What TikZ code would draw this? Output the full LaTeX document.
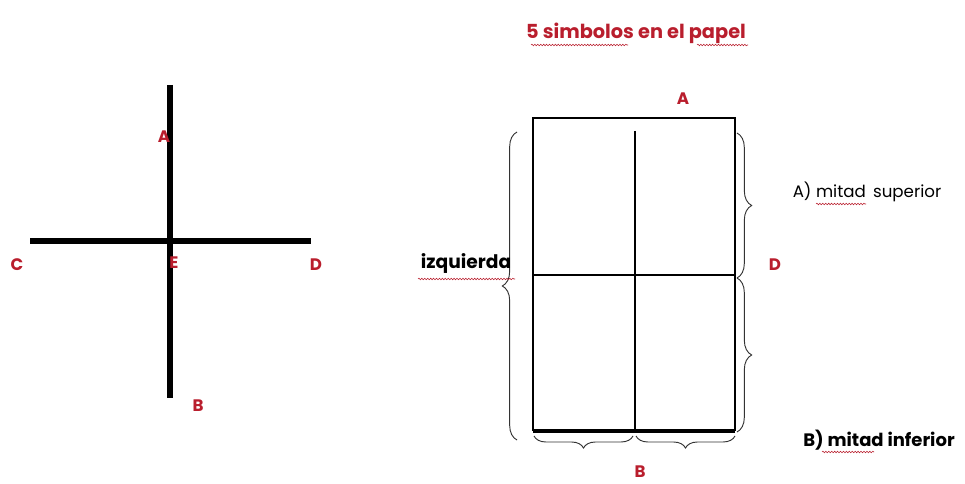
\documentclass[tikz,border=0pt]{standalone}
\usepackage{fontspec}
\setmainfont{Poppins}
\usetikzlibrary{decorations.pathreplacing,decorations.pathmorphing}
\definecolor{lred}{RGB}{185,30,45}
\begin{document}
\begin{tikzpicture}[x=0.75pt,y=-0.75pt,
  lbl/.style={text=lred,font=\bfseries\fontsize{12.5}{14}\selectfont,inner sep=0pt},
  txt/.style={text=black,font=\fontsize{12.5}{14}\selectfont,inner sep=0pt},
  thickline/.style={line width=4pt,black},
  frame/.style={line width=2.2pt,black},
  mid/.style={line width=1pt,black},
  brc/.style={decorate,decoration={brace,amplitude=11pt},line width=0.7pt,black!80},
  wavy/.style={lred,line width=0.4pt,decorate,decoration={snake,amplitude=0.6pt,segment length=2.2pt}}]
\useasboundingbox (0,0) rectangle (965,484);
% left cross
\coordinate (vt) at (170,85);
\coordinate (vb) at (170,398);
\coordinate (hl) at (30,241);
\coordinate (hr) at (311,241);
\draw[thickline] (vt) -- (vb);
\draw[thickline] (hl) -- (hr);
\node[lbl] (la) at (164,137) {A};
\node[lbl] (lc) at (17,265) {C};
\node[lbl] (le) at (174,263) {E};
\node[lbl] (ld) at (316,265) {D};
\node[lbl] (lb) at (198,406) {B};
% title
\node[text=lred,font=\bfseries\fontsize{14.5}{16}\selectfont,inner sep=0pt] (title) at (636,33) {5 simbolos en el papel};
\draw[wavy] (531,45) -- (628,45);
\draw[wavy] (697,45) -- (748,45);
% paper
\coordinate (tl) at (533,118);
\coordinate (tr) at (735,118);
\coordinate (bl) at (533,431);
\coordinate (br) at (735,431);
\draw[frame] (bl) -- (tl) -- (tr) -- (br);
\draw[line width=3.5pt] (bl) -- (br);
\coordinate (mt) at (635,131);
\coordinate (mb) at (635,431);
\coordinate (ml) at (533,275);
\coordinate (mr) at (735,275);
\draw[mid] (mt) -- (mb);
\draw[mid] (ml) -- (mr);
\node[lbl] (pa) at (683,99) {A};
\node[lbl] (pd) at (775,265) {D};
\node[lbl] (pb) at (640,472) {B};
% braces
\coordinate (lb1) at (517,440);
\coordinate (lb2) at (517,132);
\draw[brc] (lb1) -- (lb2);
\coordinate (r1a) at (737,133);
\coordinate (r1b) at (737,278);
\draw[brc] (r1a) -- (r1b);
\coordinate (r2a) at (737,278);
\coordinate (r2b) at (737,432);
\draw[brc] (r2a) -- (r2b);
\coordinate (b1a) at (633,436);
\coordinate (b1b) at (534,436);
\draw[brc,decoration={brace,amplitude=9pt}] (b1a) -- (b1b);
\coordinate (b2a) at (735,436);
\coordinate (b2b) at (636,436);
\draw[brc,decoration={brace,amplitude=9pt}] (b2a) -- (b2b);
% texts
\node[txt,font=\bfseries\fontsize{14}{15}\selectfont] (izq) at (466,264) {izquierda};
\draw[wavy] (418,279) -- (515,279);
\node[txt] (sup) at (867,192) {A) mitad\, superior};
\draw[wavy] (816,204) -- (866,204);
\node[txt,font=\bfseries\fontsize{13.5}{15}\selectfont] (inf) at (879,440) {B) mitad inferior};
\draw[wavy] (822,452) -- (874,452);
\end{tikzpicture}
\end{document}
